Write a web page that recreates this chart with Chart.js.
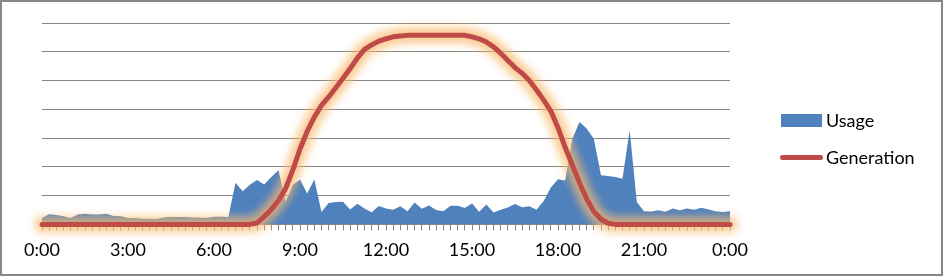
<!DOCTYPE html>
<html>
<head>
<meta charset="utf-8">
<script src="https://cdn.jsdelivr.net/npm/chart.js@4.4.1/dist/chart.umd.min.js"></script>
<style>
  body { margin: 0; background: #fff; }
  #wrap { position: relative; width: 943px; height: 276px; font-family: Lato, sans-serif; }
  #frame { position: absolute; left: 0; top: 0; width: 943px; height: 276px; box-sizing: border-box; border: 2px solid #878787; pointer-events: none; }
  .lg { position: absolute; font-size: 18px; line-height: 20px; color: #000; white-space: nowrap; }
  .sw { position: absolute; }
</style>
</head>
<body>
<div id="wrap">
  <canvas id="energyChart" width="943" height="276"></canvas>
  <div class="sw" style="left:781px;top:114px;width:41px;height:13px;background:#4F81BD"></div>
  <div class="lg" style="left:826px;top:110px">Usage</div>
  <div class="sw" style="left:780px;top:155px;width:43px;height:5px;border-radius:3px;background:#BE4B48"></div>
  <div class="lg" style="left:826px;top:147px">Generation</div>
  <div id="frame"></div>
</div>
<script>
// 15 minute readings over one day
const times = [
  '0:00','0:15','0:30','0:45','1:00','1:15','1:30','1:45','2:00','2:15','2:30','2:45',
  '3:00','3:15','3:30','3:45','4:00','4:15','4:30','4:45','5:00','5:15','5:30','5:45',
  '6:00','6:15','6:30','6:45','7:00','7:15','7:30','7:45','8:00','8:15','8:30','8:45',
  '9:00','9:15','9:30','9:45','10:00','10:15','10:30','10:45','11:00','11:15','11:30','11:45',
  '12:00','12:15','12:30','12:45','13:00','13:15','13:30','13:45','14:00','14:15','14:30','14:45',
  '15:00','15:15','15:30','15:45','16:00','16:15','16:30','16:45','17:00','17:15','17:30','17:45',
  '18:00','18:15','18:30','18:45','19:00','19:15','19:30','19:45','20:00','20:15','20:30','20:45',
  '21:00','21:15','21:30','21:45','22:00','22:15','22:30','22:45','23:00','23:15','23:30','23:45',
  '0:00'
];
const tickLabels = ['0:00','3:00','6:00','9:00','12:00','15:00','18:00','21:00','0:00'];

const usage = [
  0.22,0.35,0.33,0.28,0.22,0.34,0.37,0.34,0.34,0.37,0.29,0.28,
  0.22,0.22,0.20,0.20,0.19,0.24,0.26,0.26,0.26,0.24,0.23,0.22,
  0.27,0.27,0.26,1.45,1.15,1.38,1.54,1.39,1.65,1.88,0.80,1.38,
  1.56,1.07,1.56,0.43,0.74,0.78,0.79,0.52,0.72,0.55,0.42,0.64,
  0.55,0.51,0.63,0.46,0.76,0.54,0.66,0.50,0.46,0.65,0.65,0.57,
  0.73,0.44,0.69,0.41,0.51,0.59,0.71,0.60,0.63,0.51,0.81,1.28,
  1.57,1.53,2.98,3.56,3.33,2.98,1.71,1.68,1.65,1.59,3.27,0.78,
  0.46,0.45,0.49,0.44,0.55,0.49,0.55,0.51,0.58,0.52,0.46,0.43,
  0.46
];

const generation = [
  0,0,0,0,0,0,0,0,0,0,0,0,
  0,0,0,0,0,0,0,0,0,0,0,0,
  0,0,0,0,0,0,0.05,0.27,0.52,0.83,1.25,1.89,
  2.62,3.23,3.73,4.14,4.43,4.75,5.08,5.42,5.78,6.08,6.24,6.37,
  6.45,6.52,6.55,6.57,6.57,6.57,6.57,6.57,6.57,6.57,6.57,6.57,
  6.52,6.45,6.34,6.17,5.95,5.70,5.45,5.25,5.00,4.67,4.32,3.94,
  3.36,2.68,2.06,1.45,0.88,0.45,0.18,0.04,0,0,0,0,
  0,0,0,0,0,0,0,0,0,0,0,0,
  0
];

// soft orange halo under the generation line
const glowPlugin = {
  id: 'glow',
  beforeDatasetDraw(chart, args) {
    if (chart.data.datasets[args.index].label === 'glow') {
      chart.ctx.save();
      chart.ctx.filter = 'blur(4px)';
    }
  },
  afterDatasetDraw(chart, args) {
    if (chart.data.datasets[args.index].label === 'glow') {
      chart.ctx.restore();
    }
  }
};

const ctx = document.getElementById('energyChart');
new Chart(ctx, {
  type: 'line',
  data: {
    labels: times,
    datasets: [
      {
        label: 'Usage',
        data: usage,
        fill: 'origin',
        backgroundColor: '#4F81BD',
        borderWidth: 0,
        pointRadius: 0,
        order: 2
      },
      {
        label: 'glow',
        data: generation,
        borderColor: 'rgba(250,185,110,0.75)',
        borderWidth: 16,
        borderCapStyle: 'round',
        borderJoinStyle: 'round',
        pointRadius: 0,
        fill: false,
        clip: false,
        order: 1
      },
      {
        label: 'Generation',
        data: generation,
        borderColor: '#BE4B48',
        borderWidth: 5,
        borderCapStyle: 'round',
        borderJoinStyle: 'round',
        pointRadius: 0,
        fill: false,
        clip: false,
        order: 0
      }
    ]
  },
  options: {
    responsive: false,
    animation: false,
    devicePixelRatio: 1,
    layout: { padding: { left: 42, right: 213, top: 23, bottom: 6 } },
    plugins: {
      legend: { display: false },
      tooltip: { enabled: false }
    },
    scales: {
      x: {
        offset: false,
        grid: { display: true, drawOnChartArea: false, drawTicks: true, tickLength: 6, color: '#868686' },
        border: { display: true, color: '#868686' },
        ticks: {
          autoSkip: false,
          maxRotation: 0,
          padding: 9,
          color: '#000',
          font: { family: 'Lato', size: 18 },
          callback: (v, i) => (i % 12 === 0 ? tickLabels[i / 12] : '')
        }
      },
      y: {
        min: 0,
        max: 7,
        ticks: { display: false, stepSize: 1 },
        grid: { color: '#868686', drawTicks: false },
        border: { display: false }
      }
    }
  },
  plugins: [glowPlugin]
});
</script>
</body>
</html>
